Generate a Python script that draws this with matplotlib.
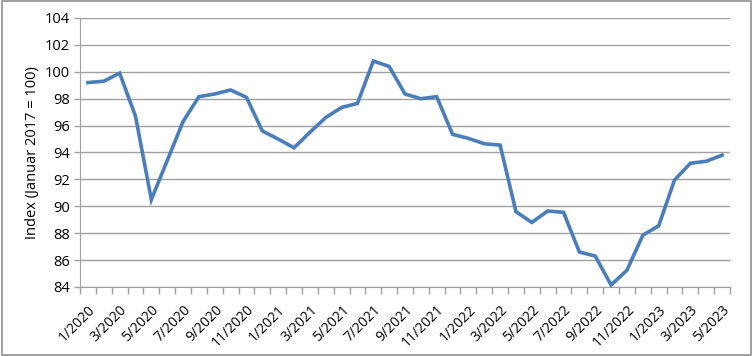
import matplotlib.pyplot as plt
import numpy as np

# monthly index values 1/2020 .. 5/2023
vals = [99.2, 99.3, 99.9, 96.7, 90.5, 93.4, 96.3, 98.15, 98.35, 98.65,
        98.1, 95.6, 95.0, 94.35, 95.5, 96.6, 97.35, 97.65, 100.8, 100.4,
        98.35, 98.0, 98.15, 95.35, 95.05, 94.65, 94.55, 89.6, 88.8, 89.65,
        89.55, 86.6, 86.3, 84.15, 85.25, 87.85, 88.55, 91.95, 93.2, 93.35,
        93.8]
labels = ["1/2020", "3/2020", "5/2020", "7/2020", "9/2020", "11/2020",
          "1/2021", "3/2021", "5/2021", "7/2021", "9/2021", "11/2021",
          "1/2022", "3/2022", "5/2022", "7/2022", "9/2022", "11/2022",
          "1/2023", "3/2023", "5/2023"]
yticks = [84, 86, 88, 90, 92, 94, 96, 98, 100, 102, 104]

plt.rcParams['font.family'] = ['Open Sans', 'DejaVu Sans']
gray = "#a0a0a0"

fig = plt.figure(figsize=(7.53, 3.56), dpi=100)
ax = fig.add_axes([80/753, 1 - 287/356, 650/753, 269/356])

x = np.arange(len(vals))
ax.plot(x, vals, color="#4a7ebb", lw=2.6, solid_joinstyle="miter")

ax.set_ylim(84, 104)
ax.set_yticks(yticks)
ax.set_xlim(-0.5, len(vals) - 0.5)
ax.yaxis.grid(True, color=gray, lw=1)
ax.set_axisbelow(True)

# tick marks at category boundaries, labels at category centres
ax.set_xticks(np.arange(len(vals) + 1) - 0.5)
ax.set_xticklabels([])
ax.set_xticks(x[::2], minor=True)
ax.set_xticklabels(labels, minor=True, rotation=45, ha="right",
                   rotation_mode="anchor", fontsize=10)
ax.tick_params(axis="x", which="major", length=5, color=gray, width=1)
ax.tick_params(axis="x", which="minor", length=0, pad=11)
ax.tick_params(axis="y", length=4, color=gray, width=1, labelsize=10.5)

for s in ["top", "right"]:
    ax.spines[s].set_visible(False)
for s in ["left", "bottom"]:
    ax.spines[s].set_color(gray)

ax.set_ylabel("Index (Januar 2017 = 100)", fontsize=10.5, labelpad=3)

# outer border
fig.patches.append(plt.Rectangle((0.002, 0.004), 0.995, 0.992, transform=fig.transFigure,
                                 fill=False, edgecolor="#909090", lw=1.2))

fig.savefig("out.png", dpi=100)
